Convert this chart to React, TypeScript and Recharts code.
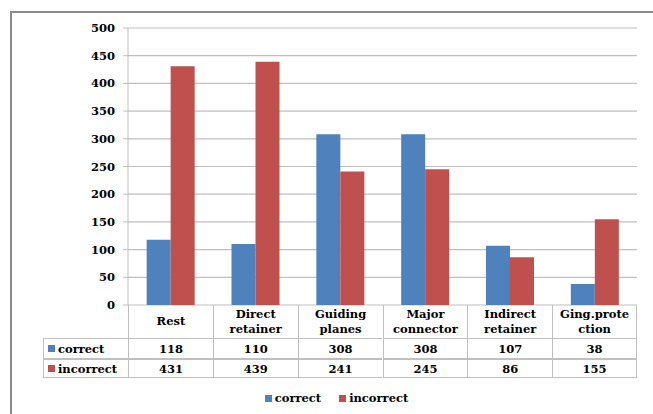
import { BarChart, Bar, XAxis, YAxis, CartesianGrid } from "recharts";

const categories = [
  "Rest",
  "Direct\nretainer",
  "Guiding\nplanes",
  "Major\nconnector",
  "Indirect\nretainer",
  "Ging.prote\nction",
];
const correct = [118, 110, 308, 308, 107, 38];
const incorrect = [431, 439, 241, 245, 86, 155];
const yTicks = [0, 50, 100, 150, 200, 250, 300, 350, 400, 450, 500];

const series = [
  { key: "correct", color: "#4F81BD", values: correct },
  { key: "incorrect", color: "#C0504D", values: incorrect },
];

const data = categories.map((name, i) => ({
  name,
  correct: correct[i],
  incorrect: incorrect[i],
}));

const FONT = "'DejaVu Serif', serif";
const W = 653;
const H = 414;
const PLOT_LEFT = 128;
const PLOT_RIGHT = 637;
const PLOT_TOP = 28;
const PLOT_BOTTOM = 305;
const TABLE_LEFT = 43;
const HEADER_H = 33;
const ROW_HS = [21, 19];
const LINE = "#bfbfbf";

function Swatch({ color }: { color: string }) {
  return (
    <span
      style={{
        display: "inline-block",
        width: 7,
        height: 7,
        background: color,
        marginRight: 3,
      }}
    />
  );
}

function DataTable() {
  const colW = (PLOT_RIGHT - PLOT_LEFT) / categories.length;
  const last = categories.length - 1;
  const cells: JSX.Element[] = [];
  categories.forEach((c, i) => {
    cells.push(
      <div
        key={`h-${i}`}
        style={{
          position: "absolute",
          left: PLOT_LEFT + i * colW,
          top: 0,
          width: colW,
          height: HEADER_H,
          borderLeft: `1px solid ${LINE}`,
          borderRight: i === last ? `1px solid ${LINE}` : undefined,
          boxSizing: "border-box",
          display: "flex",
          flexDirection: "column",
          alignItems: "center",
          justifyContent: "center",
          lineHeight: "15px",
        }}
      >
        {c.split("\n").map((l, j) => (
          <span key={j}>{l}</span>
        ))}
      </div>
    );
  });
  let top = HEADER_H;
  series.forEach((s, r) => {
    const h = ROW_HS[r];
    const cellBase = {
      position: "absolute" as const,
      top,
      height: h,
      borderLeft: `1px solid ${LINE}`,
      borderTop: `1px solid ${LINE}`,
      borderBottom: `1px solid ${LINE}`,
      boxSizing: "border-box" as const,
      display: "flex",
      alignItems: "center",
    };
    cells.push(
      <div
        key={`l-${r}`}
        style={{ ...cellBase, left: TABLE_LEFT, width: PLOT_LEFT - TABLE_LEFT, paddingLeft: 4 }}
      >
        <Swatch color={s.color} />
        {s.key}
      </div>
    );
    s.values.forEach((v, i) => {
      cells.push(
        <div
          key={`c-${r}-${i}`}
          style={{
            ...cellBase,
            left: PLOT_LEFT + i * colW,
            width: colW,
            borderRight: i === last ? `1px solid ${LINE}` : undefined,
            justifyContent: "center",
          }}
        >
          {v}
        </div>
      );
    });
    top += h;
  });
  return (
    <div
      style={{
        position: "absolute",
        left: 0,
        top: PLOT_BOTTOM,
        width: W,
        height: 80,
        fontFamily: FONT,
        fontWeight: "bold",
        fontSize: 11.5,
        color: "#000",
      }}
    >
      {cells}
    </div>
  );
}

function ChartLegend() {
  return (
    <div
      style={{
        position: "absolute",
        left: 10,
        top: 391,
        width: W,
        display: "flex",
        justifyContent: "center",
        gap: 18,
        fontFamily: FONT,
        fontWeight: "bold",
        fontSize: 11.5,
        color: "#000",
      }}
    >
      {series.map((s) => (
        <span key={s.key} style={{ display: "flex", alignItems: "center" }}>
          <Swatch color={s.color} />
          {s.key}
        </span>
      ))}
    </div>
  );
}

export default function App() {
  return (
    <div
      style={{
        position: "absolute",
        left: 0,
        top: 0,
        width: W,
        height: H,
        background: "#fff",
        overflow: "hidden",
      }}
    >
      <div
        style={{
          position: "absolute",
          left: 10,
          top: 11,
          width: W,
          height: H,
          borderTop: "2px solid #8a8a8a",
          borderLeft: "2px solid #8a8a8a",
        }}
      />
      <BarChart
        width={W}
        height={H}
        data={data}
        margin={{ top: PLOT_TOP, right: W - PLOT_RIGHT, bottom: H - PLOT_BOTTOM, left: 0 }}
        barCategoryGap="22%"
        barGap={0}
      >
        <CartesianGrid vertical={false} stroke={LINE} strokeWidth={1.2} />
        <XAxis dataKey="name" hide />
        <YAxis
          width={PLOT_LEFT}
          domain={[0, 500]}
          ticks={yTicks}
          interval={0}
          tickSize={5}
          tickMargin={8}
          axisLine={{ stroke: LINE }}
          tickLine={{ stroke: LINE }}
          tick={{ fill: "#000", fontFamily: FONT, fontWeight: "bold", fontSize: 11.5 }}
        />
        {series.map((s) => (
          <Bar
            key={s.key}
            dataKey={s.key}
            name={s.key}
            fill={s.color}
            isAnimationActive={false}
          />
        ))}
      </BarChart>
      <DataTable />
      <ChartLegend />
    </div>
  );
}
